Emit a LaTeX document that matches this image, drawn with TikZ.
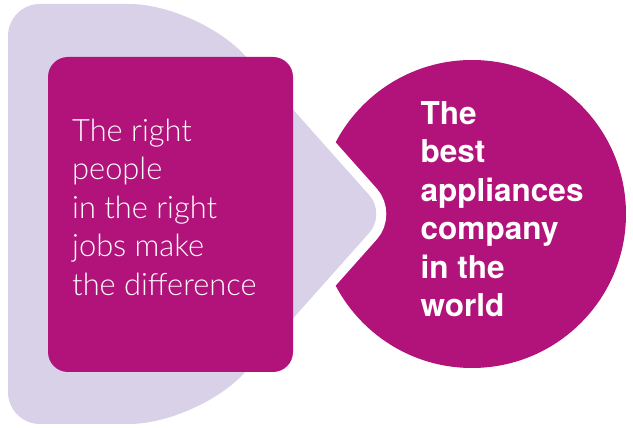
\documentclass[tikz,border=0pt]{standalone}
\usepackage{fontspec}
\setmainfont{TeX Gyre Heros}
\newfontfamily\lightfont{Lato Light}
\definecolor{plum}{HTML}{B1137A}
\definecolor{lilac}{HTML}{D8D1E8}

\begin{document}
\begin{tikzpicture}[x=1pt,y=1pt]
        \tikzstyle{backdrop}=[fill=lilac, preaction={draw=white, line width=20pt}]
        \tikzstyle{card}=[fill=plum, rounded corners=20pt, minimum width=245pt, minimum height=315pt, inner sep=0pt]
        \tikzstyle{goal}=[circle, fill=plum, minimum size=308pt, inner sep=0pt]
        \tikzstyle{say}=[text=white, align=left, inner sep=0pt, anchor=north west]
        \useasboundingbox (0,0) rectangle (633,428);
        \node[goal] (world) at (472,214) {};
        % the white rim of the backdrop cuts the notch out of the circle
        \path[backdrop] (8,214) {[rounded corners=32pt] -- (8,424)} {[rounded corners=70pt] -- (199,424)}
            {[rounded corners=25pt] -- (386,214)} {[rounded corners=70pt] -- (199,4)}
            {[rounded corners=32pt] -- (8,4)} -- cycle;
        \node[card] (people) at (170.5,213.5) {};
        \node[say, font={\lightfont\fontsize{30.8}{38.6}\selectfont}] (peopletext) at (72,309.5) {The right\\people\\in the right\\jobs make\\the difference};
        \node[say, font={\bfseries\fontsize{31.5}{38.5}\selectfont}] (worldtext) at (420.5,327) {The\\best\\appliances\\company\\in the\\world};
    \end{tikzpicture}
\end{document}
